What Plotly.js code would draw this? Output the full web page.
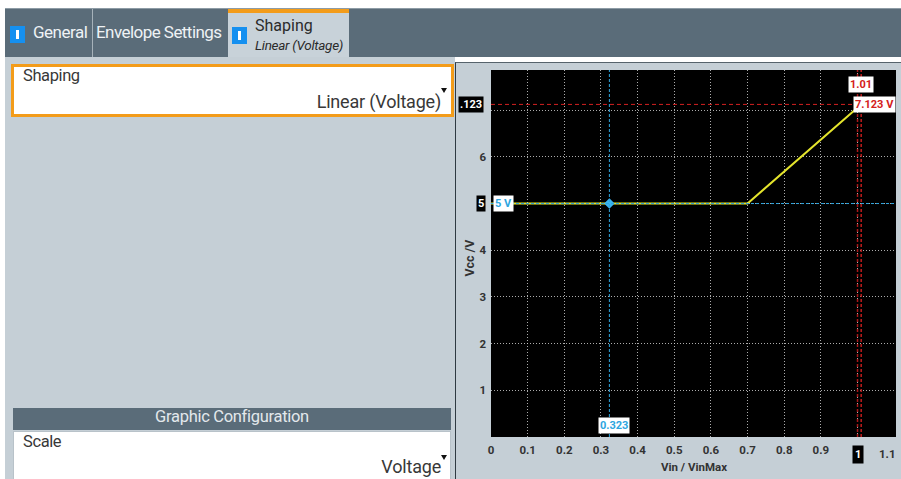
<!DOCTYPE html>
<html><head><meta charset="utf-8">
<script src="https://cdn.plot.ly/plotly-3.0.1.min.js"></script>
<style>
html,body{margin:0;padding:0;width:901px;height:479px;overflow:hidden;background:#fff;font-family:Roboto,'DejaVu Sans',sans-serif;}
.abs{position:absolute;box-sizing:border-box;}
#tabbar{left:5px;top:8px;width:896px;height:49px;background:#5a6c79;border-top:1px solid #8d9ba5;}
.tab{position:absolute;top:0;height:48px;color:#eef2f5;white-space:nowrap;}
.sep{border-right:1px solid #a6b2ba;}
.icon{position:absolute;width:15px;height:17px;background:#1590f0;}
.icon:after{content:"";position:absolute;left:6px;top:4px;width:3px;height:9px;background:#fff;}
.lbl{position:absolute;white-space:nowrap;color:#383838;}
.arrow{position:absolute;width:0;height:0;border-left:3.5px solid transparent;border-right:3.5px solid transparent;border-top:5px solid #111;}
</style></head>
<body>
<div id="tabbar" class="abs">
  <div class="tab sep" style="left:0;width:87px;">
    <div class="icon" style="left:5px;top:17px;"></div>
    <div class="lbl" style="left:28px;top:13px;color:#eef2f5;font-size:17px;letter-spacing:-0.5px;">General</div>
  </div>
  <div class="tab sep" style="left:88px;width:135px;">
    <div class="lbl" style="left:3px;top:13px;color:#eef2f5;font-size:17px;letter-spacing:-0.55px;">Envelope Settings</div>
  </div>
  <div class="tab" style="left:223px;width:121px;background:#c8d2d9;border-top:4px solid #f39c1a;top:0;height:48px;">
    <div class="icon" style="left:4px;top:14px;"></div>
    <div class="lbl" style="left:27px;top:3px;color:#2b2b2b;font-size:16px;">Shaping</div>
    <div class="lbl" style="left:27px;top:24px;color:#2b2b2b;font-size:13.5px;font-style:italic;letter-spacing:-0.3px;">Linear (Voltage)</div>
  </div>
</div>
<div class="abs" style="left:5px;top:57px;width:450px;height:422px;background:#c5cfd6;"></div>
<div class="abs" style="left:11px;top:64px;width:443px;height:53px;background:#fff;border:3px solid #f39c1a;"></div>
<div class="lbl" style="left:23px;top:66px;font-size:16.5px;letter-spacing:-0.4px;">Shaping</div>
<div class="lbl" style="right:460px;top:91px;font-size:18px;letter-spacing:-0.2px;">Linear (Voltage)</div>
<div class="arrow" style="left:441px;top:88px;"></div>
<div class="abs" style="left:13px;top:408px;width:438px;height:22px;background:#5a6c79;"></div>
<div class="lbl" style="left:13px;width:438px;text-align:center;top:407px;font-size:16.5px;color:#e3e8ec;letter-spacing:-0.3px;">Graphic Configuration</div>
<div class="abs" style="left:13px;top:431px;width:438px;height:60px;background:#fff;border:1px solid #b8c2c9;"></div>
<div class="lbl" style="left:23px;top:432px;font-size:16.5px;letter-spacing:-0.4px;">Scale</div>
<div class="lbl" style="right:460px;top:456px;font-size:18px;letter-spacing:-0.2px;">Voltage</div>
<div class="arrow" style="left:441px;top:455px;"></div>
<div class="abs" style="left:455px;top:62px;width:446px;height:417px;background:#c5cfd6;border-left:1px solid #2f3a42;border-top:1px solid #56636c;"></div>
<div id="chart" class="abs" style="left:456px;top:63px;width:445px;height:416px;"></div>
<script>
// ---- data ----
const curveX = [0, 0.7, 1.01];
const curveY = [5, 5, 7.123];
const markerX = [0.323];
const markerY = [5];
const cursorX = [1.01];
const cursorY = [7.123];
const xTickVals = [0, 0.1, 0.2, 0.3, 0.4, 0.5, 0.6, 0.7, 0.8, 0.9, 1.0];
const xTickText = ['0', '0.1', '0.2', '0.3', '0.4', '0.5', '0.6', '0.7', '0.8', '0.9', ''];
const xLastTick = ['1.1'];
const xLastTickVal = [1.1];
const yTickVals = [1, 2, 3, 4, 5, 6, 7];
const yTickText = ['1', '2', '3', '4', '', '6', ''];
const highlightX = [1.0];
const highlightXText = ['1'];
const highlightYText = ['.123', '5'];
const markerLabels = ['5 V', '0.323'];
const cursorLabels = ['1.01', '7.123 V'];
const axisTitles = ['Vin / VinMax', 'Vcc /V'];

const RED = '#d42020', BLUE = '#2ea6df', YEL = '#e4e42c';
const tickFont = {family: 'Roboto, sans-serif', size: 11.5, color: '#333', weight: 'bold'};
const titleFont = {family: 'Roboto, sans-serif', size: 11.5, color: '#333', weight: 'bold'};

const traces = [
  {x: curveX, y: curveY, type: 'scatter', mode: 'lines', line: {color: YEL, width: 2}, hoverinfo: 'skip'},
  {x: markerX, y: markerY, type: 'scatter', mode: 'markers', marker: {color: '#39b3f0', size: 8, symbol: 'diamond'}, hoverinfo: 'skip'}
];

const shapes = [
  {type: 'line', xref: 'paper', x0: 0, x1: 1, yref: 'y', y0: markerY[0], y1: markerY[0], line: {color: BLUE, width: 1, dash: '3px,2px'}, layer: 'above'},
  {type: 'line', xref: 'x', x0: markerX[0], x1: markerX[0], yref: 'paper', y0: 0, y1: 1, line: {color: BLUE, width: 1, dash: '3px,2px'}, layer: 'above'},
  {type: 'line', xref: 'paper', x0: 0, x1: 1, yref: 'y', y0: cursorY[0], y1: cursorY[0], line: {color: RED, width: 1, dash: '4px,3px'}, layer: 'above'},
  {type: 'line', xref: 'x', x0: cursorX[0], x1: cursorX[0], yref: 'paper', y0: 0, y1: 1, line: {color: '#c01c1c', width: 1.5, dash: '3px,2px'}, layer: 'above'},
  {type: 'line', xref: 'x', x0: highlightX[0], x1: highlightX[0], yref: 'paper', y0: 0, y1: 1, line: {color: '#a81818', width: 1.5, dash: '3px,2px'}, layer: 'above'}
];

const lblFont = (c) => ({family: 'Roboto, sans-serif', size: 11, color: c, weight: 'bold'});
const annotations = [
  {xref: 'paper', x: 0, y: markerY[0], text: markerLabels[0], showarrow: false, xanchor: 'left', xshift: 2, font: lblFont(BLUE), bgcolor: '#fff', borderpad: 1},
  {xref: 'x', x: markerX[0], yref: 'paper', y: 0, text: markerLabels[1], showarrow: false, yanchor: 'bottom', yshift: 3, xshift: 5, font: lblFont(BLUE), bgcolor: '#fff', borderpad: 1},
  {xref: 'x', x: cursorX[0], yref: 'paper', y: 1, text: cursorLabels[0], showarrow: false, yanchor: 'top', yshift: -6, font: lblFont(RED), bgcolor: '#fff', borderpad: 1},
  {xref: 'x', x: cursorX[0], y: cursorY[0], text: cursorLabels[1], showarrow: false, xanchor: 'left', xshift: -8, font: lblFont(RED), bgcolor: '#fff', borderpad: 1},
  {xref: 'paper', x: 0, y: cursorY[0], text: highlightYText[0], showarrow: false, xanchor: 'right', xshift: -7, font: lblFont('#fff'), bgcolor: '#000', borderpad: 1},
  {xref: 'paper', x: 0, y: markerY[0], text: highlightYText[1], showarrow: false, xanchor: 'right', xshift: -5, font: lblFont('#fff'), bgcolor: '#000', borderpad: 1},
  {xref: 'x', x: highlightX[0], yref: 'paper', y: 0, text: highlightXText[0], showarrow: false, yanchor: 'top', yshift: -8, font: lblFont('#fff'), bgcolor: '#000', borderpad: 2},
  {xref: 'x', x: xLastTickVal[0], yref: 'paper', y: 0, text: xLastTick[0], showarrow: false, yanchor: 'top', yshift: -8, xshift: -7, font: tickFont},
  {xref: 'paper', x: 0.5, yref: 'paper', y: 0, text: axisTitles[0], showarrow: false, yanchor: 'middle', yshift: -30, font: titleFont},
  {xref: 'paper', x: 0, yref: 'paper', y: 0.5, text: axisTitles[1], showarrow: false, textangle: -90, xanchor: 'center', xshift: -22, yshift: -4, font: {family: 'Roboto, sans-serif', size: 12.5, color: '#333', weight: 'bold'}}
];

const layout = {
  width: 445, height: 416,
  margin: {l: 35, r: 5, t: 7, b: 42},
  paper_bgcolor: '#c5cfd6', plot_bgcolor: '#000',
  showlegend: false,
  xaxis: {range: [0, 1.105], tickvals: xTickVals, ticktext: xTickText, tickfont: tickFont,
    showgrid: true, gridcolor: 'rgba(215,215,215,0.8)', griddash: '1px,2px', gridwidth: 1,
    zeroline: false, showline: false, ticks: '', ticklabelstandoff: 4, fixedrange: true},
  yaxis: {range: [0, 7.86], tickvals: yTickVals, ticktext: yTickText, tickfont: tickFont,
    showgrid: true, gridcolor: 'rgba(215,215,215,0.8)', griddash: '1px,2px', gridwidth: 1,
    zeroline: false, showline: false, ticks: '', ticklabelstandoff: 4, fixedrange: true},
  shapes: shapes,
  annotations: annotations
};

Plotly.newPlot('chart', traces, layout, {staticPlot: true, displayModeBar: false});
</script>
</body></html>
